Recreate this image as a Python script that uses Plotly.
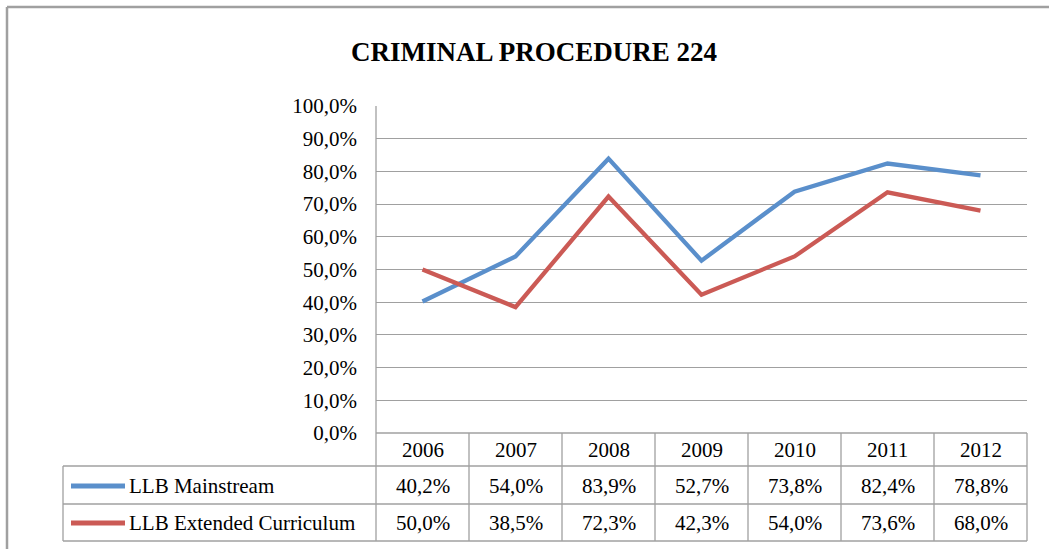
import plotly.graph_objects as go

years = ["2006", "2007", "2008", "2009", "2010", "2011", "2012"]
mainstream = [0.402, 0.540, 0.839, 0.527, 0.738, 0.824, 0.788]
extended = [0.500, 0.385, 0.723, 0.423, 0.540, 0.736, 0.680]
series_names = ["LLB Mainstream", "LLB Extended Curriculum"]
series_colors = ["#5A8FCB", "#CB5A55"]
series_values = [mainstream, extended]
title = "CRIMINAL PROCEDURE 224"

W, H = 1049, 549
FONT = "Liberation Serif"
GRID = "#a0a0a0"

def px(x):
    return x / W

def py(y):
    return 1 - y / H

X0, X1 = 376, 1027
Y_TOP, Y_ZERO = 106, 433
ROW_LINES = [466, 504, 541]
ROW_CENTERS = [486, 523]
TABLE_LEFT = 63

fig = go.Figure()
for name, vals, col in zip(series_names, series_values, series_colors):
    fig.add_trace(go.Scatter(x=list(range(len(years))), y=vals, mode="lines", name=name,
                             line=dict(color=col, width=4.3), showlegend=False))

shapes = []
def line(x0, y0, x1, y1, xref="paper", color=GRID, width=1.3):
    shapes.append(dict(type="line", xref=xref, yref="paper", x0=x0, x1=x1, y0=y0, y1=y1,
                       line=dict(color=color, width=width)))

# outer chart border (left & top)
line(px(7), py(7), px(7), py(H + 2), width=2.5)
line(px(7), py(7), px(W + 2), py(7), width=2.5)
# left axis line extended through table
line(px(X0), py(Y_TOP), px(X0), py(ROW_LINES[-1]))
line(px(X0), py(Y_ZERO), px(X1), py(Y_ZERO))
for yl in ROW_LINES:
    line(px(TABLE_LEFT), py(yl), px(X1), py(yl))
line(px(TABLE_LEFT), py(ROW_LINES[0]), px(TABLE_LEFT), py(ROW_LINES[-1]))
line(px(X1), py(Y_ZERO), px(X1), py(ROW_LINES[-1]))
for i in range(len(years) - 1):
    line(i + 0.5, py(Y_ZERO), i + 0.5, py(ROW_LINES[-1]), xref="x")
# legend keys
for yc, col in zip(ROW_CENTERS, series_colors):
    shapes.append(dict(type="line", xref="paper", yref="paper", x0=px(71), x1=px(125),
                       y0=py(yc), y1=py(yc), line=dict(color=col, width=5)))

TS = 21
annotations = []
annotations.append(dict(text="<b>" + title + "</b>", x=px(534), y=py(52), xref="paper", yref="paper",
                        showarrow=False, font=dict(family=FONT, size=27, color="black"),
                        xanchor="center", yanchor="middle"))
for i, yr in enumerate(years):
    annotations.append(dict(text=yr, x=i, y=py(450), xref="x", yref="paper", showarrow=False,
                            font=dict(family=FONT, size=TS, color="black"), xanchor="center", yanchor="middle"))
for yc, name, vals in zip(ROW_CENTERS, series_names, series_values):
    annotations.append(dict(text=name, x=px(127), y=py(yc), xref="paper", yref="paper", showarrow=False,
                            font=dict(family=FONT, size=TS, color="black"), xanchor="left", yanchor="middle"))
    for i, v in enumerate(vals):
        annotations.append(dict(text=f"{v*100:.1f}%".replace(".", ","), x=i, y=py(yc), xref="x", yref="paper",
                                showarrow=False, font=dict(family=FONT, size=TS, color="black"),
                                xanchor="center", yanchor="middle"))

fig.update_layout(
    width=W, height=H, margin=dict(l=0, r=0, t=0, b=0, autoexpand=False),
    paper_bgcolor="white", plot_bgcolor="white", separators=",.",
    xaxis=dict(domain=[px(X0), px(X1)], range=[-0.5, len(years) - 0.5], showgrid=False,
               showticklabels=False, zeroline=False, fixedrange=True, automargin=False),
    yaxis=dict(domain=[py(Y_ZERO), py(Y_TOP)], range=[0, 1], dtick=0.1, tickformat=".1%",
               showgrid=True, gridcolor=GRID, gridwidth=1.3, zeroline=False, ticks="", automargin=False,
               ticklabelstandoff=18, tickfont=dict(family=FONT, size=TS, color="black"), fixedrange=True),
    shapes=shapes, annotations=annotations, showlegend=False,
)
fig.write_html("out.html", config={"displayModeBar": False},
               post_script="document.body.style.margin='0';document.body.style.overflow='hidden';")
